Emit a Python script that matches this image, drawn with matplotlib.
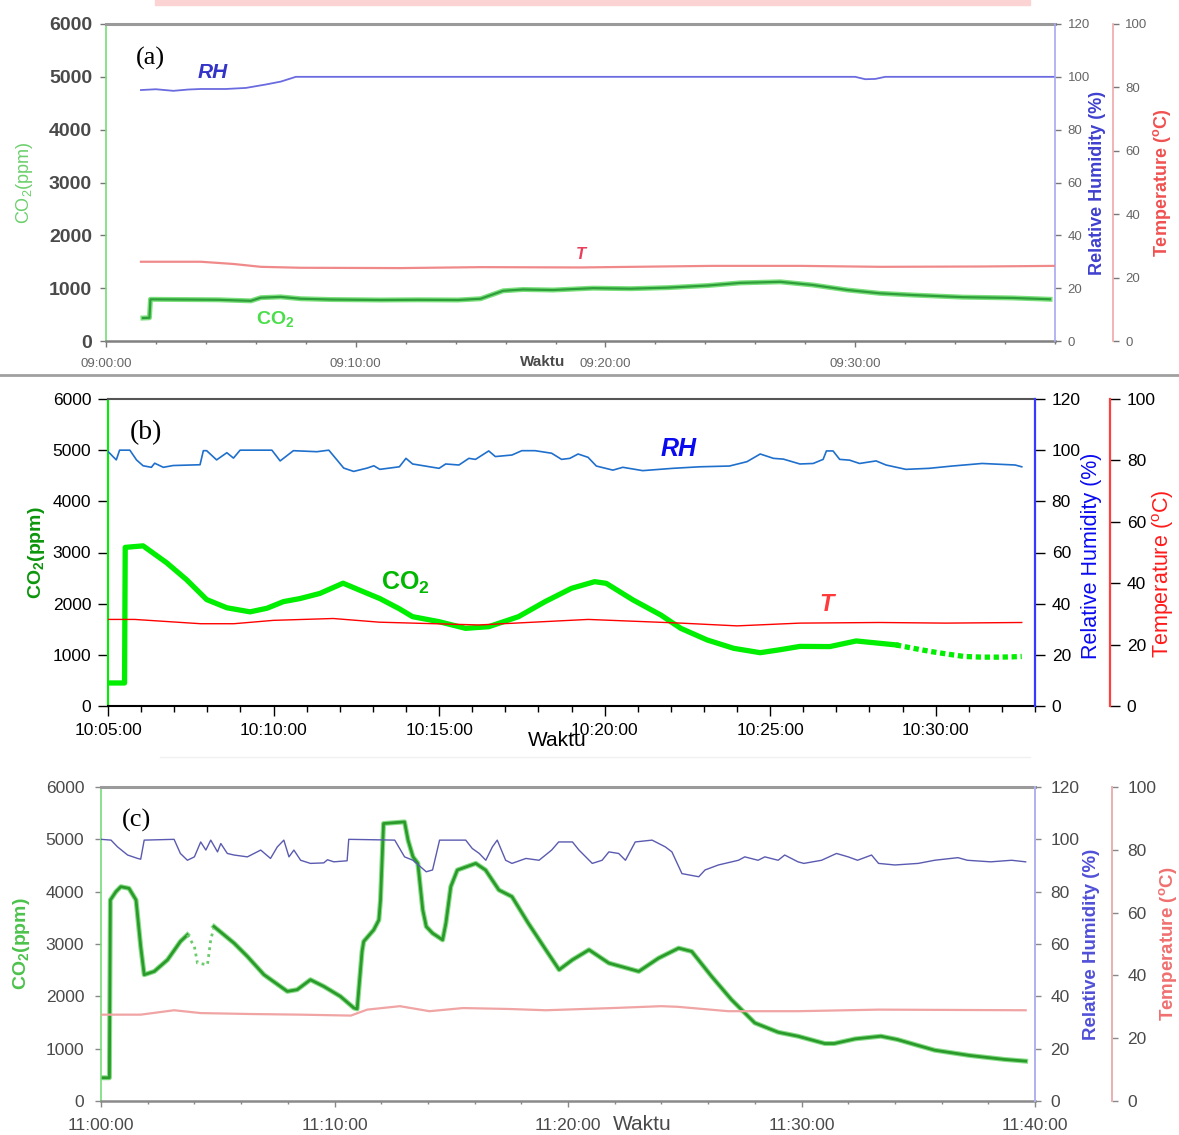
import matplotlib
matplotlib.use('Agg')
import matplotlib.pyplot as plt
from matplotlib.ticker import MultipleLocator
from matplotlib.patches import Rectangle
from matplotlib.lines import Line2D

plt.rcParams['font.family'] = ['Liberation Sans', 'DejaVu Sans']
plt.rcParams['mathtext.fontset'] = 'custom'
plt.rcParams['mathtext.rm'] = 'Liberation Sans'
plt.rcParams['mathtext.bf'] = 'Liberation Sans:bold'
plt.rcParams['mathtext.it'] = 'Liberation Sans:italic'
plt.rcParams['mathtext.default'] = 'regular'

# ---------------- data ----------------
co2_ticks = [0, 1000, 2000, 3000, 4000, 5000, 6000]
rh_ticks = [0, 20, 40, 60, 80, 100, 120]
t_ticks = [0, 20, 40, 60, 80, 100]

# panel (a): minutes after 09:00:00
a_xticks = [0, 10, 20, 30]
a_xlabels = ['09:00:00', '09:10:00', '09:20:00', '09:30:00']
a_co2_t = [1.48, 1.74, 1.78, 3.0, 4.5, 5.8, 6.2, 7.0, 7.8, 9.0, 11.0, 12.5, 14.1, 15.0,
           15.9, 16.7, 17.9, 19.5, 21.0, 22.5, 24.1, 25.4, 27.0, 28.3, 29.7, 31.0, 32.3,
           34.3, 36.3, 37.8]
a_co2 = [435, 440, 789, 785, 780, 760, 820, 835, 800, 785, 776, 780, 776, 800,
         950, 975, 965, 1000, 990, 1010, 1050, 1100, 1120, 1060, 965, 902, 870,
         830, 815, 790]
a_rh_t = [1.4, 2.0, 2.7, 3.3, 3.8, 4.8, 5.6, 6.4, 7.0, 7.6, 30.0, 30.4, 30.8, 31.2, 38.0]
a_rh = [95.0, 95.3, 94.7, 95.2, 95.4, 95.4, 95.8, 97.1, 98.2, 100, 100, 99.1, 99.2, 100, 100]
a_t_t = [1.4, 3.8, 5.1, 6.2, 7.8, 11.8, 15.0, 19.0, 24.3, 27.8, 31.0, 35.0, 38.0]
a_t = [25.0, 25.0, 24.3, 23.4, 23.1, 23.0, 23.3, 23.2, 23.7, 23.7, 23.4, 23.5, 23.7]

# panel (b): minutes after 10:05:00
b_xticks = [0, 5, 10, 15, 20, 25]
b_xlabels = ['10:05:00', '10:10:00', '10:15:00', '10:20:00', '10:25:00', '10:30:00']
b_co2_t = [0.0, 0.5, 0.52, 1.06, 1.77, 2.37, 2.98, 3.59, 4.29, 4.8, 5.3, 5.8, 6.4, 7.1,
           7.8, 8.21, 8.8, 9.2, 10.0, 10.8, 11.5, 12.4, 13.2, 14.0, 14.7, 15.05, 15.86,
           16.7, 17.3, 18.1, 18.9, 19.7, 20.3, 20.9, 21.8, 22.6, 23.3, 23.8]
b_co2 = [450, 450, 3100, 3130, 2800, 2470, 2080, 1920, 1840, 1910, 2040, 2100, 2200, 2400,
         2210, 2100, 1900, 1746, 1648, 1518, 1550, 1746, 2039, 2300, 2430, 2397, 2072,
         1778, 1518, 1290, 1127, 1042, 1100, 1165, 1161, 1271, 1226, 1194]
b_co2_dot_t = [23.8, 24.3, 24.85, 25.4, 25.86, 26.4, 26.9, 27.3, 27.6]
b_co2_dot = [1194, 1130, 1065, 1010, 968, 955, 955, 960, 968]
b_rh_t = [0, 0.15, 0.25, 0.35, 0.66, 0.86, 1.06, 1.31, 1.41, 1.67, 1.97, 2.78, 2.88, 2.98,
          3.28, 3.59, 3.79, 3.99, 4.95, 5.2, 5.6, 6.31, 6.67, 7.12, 7.42, 7.83, 8.03,
          8.21, 8.8, 9.0, 9.2, 10.0, 10.2, 10.6, 10.9, 11.1, 11.5, 11.7, 12.2, 12.5, 12.9,
          13.4, 13.7, 13.95, 14.2, 14.5, 14.75, 15.25, 15.55, 16.15, 17.06, 17.87, 18.77,
          19.3, 19.7, 20.1, 20.4, 20.9, 21.3, 21.6, 21.7, 21.9, 22.1, 22.4, 22.7, 23.2,
          23.5, 24.1, 24.8, 25.5, 26.4, 26.9, 27.4, 27.6]
b_rh = [99.5, 97.5, 96.2, 100, 100, 96.2, 93.9, 93.3, 94.9, 93.3, 94.0, 94.3, 99.8, 99.8,
        96.2, 99.0, 96.9, 100, 100, 95.8, 99.8, 99.4, 100, 93.0, 91.7, 93.0, 93.9,
        92.5, 93.5, 96.8, 94.6, 92.9, 94.6, 94.2, 96.8, 96.4, 99.7, 97.5, 98.1, 99.8, 99.8,
        98.8, 96.4, 96.8, 98.5, 97.2, 93.8, 92.2, 93.3, 92.0, 92.9, 93.5, 93.8,
        95.5, 98.5, 96.8, 96.5, 94.6, 94.8, 96.4, 99.7, 99.7, 96.4, 96.1, 94.8, 95.8,
        94.2, 92.5, 92.9, 93.8, 94.8, 94.5, 94.2, 93.5]
b_t_t = [0, 0.8, 2.8, 3.8, 5.0, 6.8, 8.2, 11.2, 14.5, 17.3, 19.0, 20.9, 23.3, 25.3, 27.6]
b_t = [28.2, 28.2, 26.8, 26.8, 27.9, 28.5, 27.3, 26.4, 28.2, 27.0, 26.1, 27.0, 27.2, 27.0, 27.2]

# panel (c): minutes after 11:00:00
c_xticks = [0, 10, 20, 30, 40]
c_xlabels = ['11:00:00', '11:10:00', '11:20:00', '11:30:00', '11:40:00']
c_co2_t1 = [0.0, 0.36, 0.40, 0.64, 0.85, 1.2, 1.5, 1.7, 1.85, 2.28, 2.85, 3.4, 3.7]
c_co2_1 = [444, 444, 3840, 4000, 4095, 4063, 3841, 2952, 2413, 2476, 2698, 3048, 3175]
c_co2_dot_t = [3.7, 4.0, 4.13, 4.56, 4.7, 4.84]
c_co2_dot = [3175, 2952, 2635, 2603, 3079, 3333]
c_co2_t2 = [4.84, 5.7, 6.27, 6.98, 7.98, 8.4, 8.97, 9.54, 10.25, 10.83, 10.97, 11.18, 11.25,
            11.68, 11.9, 11.97, 12.1, 13.0, 13.15, 13.36, 13.57, 13.78, 13.93, 14.2, 14.63,
            14.77, 14.98, 15.26, 16.05, 16.47, 17.04, 17.6, 18.3, 19.05, 19.62, 20.19, 20.9,
            21.75, 23.03, 23.88, 24.74, 25.3, 26.15, 27.0, 28.0, 29.0, 29.85, 31.0, 31.4,
            32.3, 33.4, 34.1, 35.7, 37.2, 38.7, 39.6]
c_co2_2 = [3333, 3016, 2762, 2413, 2095, 2127, 2317, 2190, 2000, 1778, 1760, 2857, 3048,
           3270, 3460, 3841, 5302, 5333, 4984, 4667, 4540, 3651, 3333, 3206, 3079,
           3397, 4095, 4413, 4540, 4413, 4032, 3905, 3397, 2889, 2508, 2698, 2889,
           2635, 2476, 2730, 2921, 2857, 2381, 1937, 1492, 1314, 1238, 1098, 1098,
           1187, 1238, 1175, 971, 870, 794, 762]
c_rh_t = [0, 0.43, 0.71, 1.14, 1.57, 1.7, 1.85, 3.13, 3.4, 3.7, 4.0, 4.27, 4.49, 4.7, 4.99,
          5.13, 5.41, 5.7, 6.27, 6.84, 7.26, 7.55, 7.83, 8.05, 8.26, 8.55, 8.97, 9.54, 9.7,
          9.97, 10.54, 10.61, 12.58, 13.0, 13.36, 13.93, 14.2, 14.5, 15.62, 15.9, 16.2,
          16.48, 16.76, 16.97, 17.33, 17.6, 18.2, 18.76, 19.3, 19.6, 20.19, 20.47, 21.04,
          21.46, 21.75, 22.17, 22.46, 22.88, 23.6, 24.17, 24.45, 24.88, 25.6, 25.87, 26.44,
          27.3, 27.57, 28.14, 28.43, 29.0, 29.28, 29.85, 30.1, 30.86, 31.5, 32.0, 32.4,
          33.0, 33.3, 34.0, 35.0, 35.7, 36.7, 37.1, 38.1, 39.0, 39.6]
c_rh = [100, 99.7, 97.1, 94.0, 92.7, 92.4, 99.7, 100, 94.6, 92.0, 93.3, 99.0, 95.9, 99.7, 95.2,
        98.4, 94.6, 94.0, 93.3, 95.9, 92.7, 97.1, 99.7, 93.3, 95.9, 92.0, 90.8, 91.0, 92.2,
        91.4, 91.8, 100, 99.7, 93.3, 92.0, 87.6, 88.3, 99.7, 99.7, 96.5, 94.6,
        92.0, 97.1, 99.7, 92.0, 90.8, 92.7, 92.0, 95.9, 99.0, 99.0, 95.9, 90.8,
        92.0, 95.2, 94.6, 92.0, 99.0, 99.7, 97.1, 95.2, 86.9, 85.7, 88.3, 90.2,
        92.0, 93.3, 92.0, 93.3, 92.0, 94.0, 91.4, 90.8, 92.0, 94.6, 93.3, 92.0,
        94.0, 90.8, 90.2, 90.8, 92.0, 93.0, 92.0, 91.4, 92.0, 91.4]
c_t_t = [0, 1.7, 3.13, 4.27, 6.4, 8.55, 10.7, 11.4, 12.8, 14.07, 15.5, 17.5, 19.05, 21.9,
         24.0, 24.7, 26.86, 29.85, 33.3, 39.6]
c_t = [27.5, 27.5, 28.9, 28.0, 27.7, 27.5, 27.2, 29.1, 30.2, 28.6, 29.6, 29.3, 28.9, 29.6,
       30.2, 30.0, 28.6, 28.6, 29.1, 28.9]

# ---------------- figure ----------------
W, H = 1179, 1135
fig = plt.figure(figsize=(W / 100, H / 100), dpi=100)


def rect(l, t, r, b):
    return [l / W, 1 - b / H, (r - l) / W, (b - t) / H]


def make_panel(box, xlim, xticks, xlabels, minor, toff, s):
    ax = fig.add_axes(rect(*box))
    rh = ax.twinx()
    tp = ax.twinx()
    ax.set_xlim(*xlim)
    ax.set_ylim(0, 6000)
    rh.set_ylim(0, 120)
    tp.set_ylim(0, 100)
    ax.set_yticks(co2_ticks)
    rh.set_yticks(rh_ticks)
    tp.set_yticks(t_ticks)
    ax.set_xticks(xticks)
    ax.set_xticklabels(xlabels)
    ax.xaxis.set_minor_locator(MultipleLocator(minor))
    for a in (rh, tp):
        for k in ('left', 'top', 'bottom'):
            a.spines[k].set_visible(False)
    ax.spines['right'].set_visible(False)
    ax.spines['left'].set_color(s['left'])
    ax.spines['left'].set_linewidth(s['lw_l'])
    ax.spines['top'].set_color(s['top'])
    ax.spines['top'].set_linewidth(s['lw_t'])
    ax.spines['bottom'].set_color(s['bottom'])
    ax.spines['bottom'].set_linewidth(s['lw_b'])
    rh.spines['right'].set_color(s['rhsp'])
    rh.spines['right'].set_linewidth(s['lw_r'])
    tp.spines['right'].set_position(('axes', toff))
    tp.spines['right'].set_color(s['tsp'])
    tp.spines['right'].set_linewidth(s['lw_r'])
    ax.tick_params(axis='y', direction='out', length=s['tl'], width=1, color=s['tc'],
                   labelsize=s['ylsize'], labelcolor=s['lc'], pad=s['ypad'])
    ax.tick_params(axis='x', which='major', direction='out', length=s['tl'], width=1,
                   color=s['tc'], labelsize=s['xlsize'], labelcolor=s['xlc'], pad=s['xpad'])
    ax.tick_params(axis='x', which='minor', direction='out', length=s['tl'] * 0.6,
                   width=1, color=s['tc'])
    for a in (rh, tp):
        a.tick_params(axis='y', direction='out', length=s['tl'], width=1, color=s['tc'],
                      labelsize=s['rlsize'], labelcolor=s['rlc'], pad=s['rpad'])
    if s['bold']:
        for lab in ax.get_yticklabels():
            lab.set_fontweight('bold')
    return ax, rh, tp


# ---- panel (a)
sa = dict(left='#77dd77', top='#9a9a9a', bottom='#808080', rhsp='#a8a8f0', tsp='#f0a8a8',
          lw_l=1.2, lw_t=2.2, lw_b=1.8, lw_r=1.2, tl=4, tc='#777777', lc='#4a4a4a',
          xlc='#666666', rlc='#666666',
          ylsize=14, xlsize=9.5, rlsize=9.5, ypad=6, xpad=8, rpad=5, bold=True)
ax, rh, tp = make_panel((106, 24, 1055, 341), (0, 38), a_xticks, a_xlabels, 2, 1.061, sa)
ax.plot(a_co2_t, a_co2, color='#7be07b', lw=3.6, solid_joinstyle='round')
ax.plot(a_co2_t, a_co2, color='#2e9e3a', lw=1.6, solid_joinstyle='round')
rh.plot(a_rh_t, a_rh, color='#6b6be0', lw=1.3)
tp.plot(a_t_t, a_t, color='#f08a8a', lw=1.6)
ax.text(0.031, 0.89, '(a)', transform=ax.transAxes, family='Liberation Serif',
        fontsize=19, ha='left', va='center')
ax.text(0.112, 0.847, 'RH', transform=ax.transAxes, color='#3434c8', fontsize=15,
        fontweight='bold', style='italic', ha='center', va='center')
ax.text(0.5, 0.274, 'T', transform=ax.transAxes, color='#e8405a', fontsize=12,
        fontweight='bold', style='italic', ha='center', va='center')
ax.text(0.178, 0.07, r'$\mathbf{CO_2}$', transform=ax.transAxes, color='#4ade4a',
        fontsize=14, ha='center', va='center')
ax.text(-0.086, 0.5, r'CO$_2$(ppm)', transform=ax.transAxes, rotation=90, color='#6ccf6c',
        fontsize=13, ha='center', va='center')
ax.text(1.045, 0.5, 'Relative Humidity (%)', transform=ax.transAxes, rotation=90,
        color='#4040d0', fontsize=13, fontweight='bold', ha='center', va='center')
ax.text(1.113, 0.5, r'Temperature ($^{o}$C)', transform=ax.transAxes, rotation=90,
        color='#f05050', fontsize=13, fontweight='bold', ha='center', va='center')
ax.text(0.4605, -0.066, 'Waktu', transform=ax.transAxes, color='#4a4a4a', fontsize=11,
        fontweight='bold', ha='center', va='center')

# ---- panel (b)
sb = dict(left='#00ee00', top='#555555', bottom='#000000', rhsp='#3a3aff', tsp='#ff4040',
          lw_l=1.5, lw_t=1.5, lw_b=1.5, lw_r=1.6, tl=7, tc='#000000', lc='#000000',
          xlc='#000000', rlc='#000000',
          ylsize=12.5, xlsize=12.5, rlsize=12.5, ypad=5, xpad=5, rpad=5, bold=False)
ax, rh, tp = make_panel((108, 399, 1035, 706), (0, 28), b_xticks, b_xlabels, 1, 1.081, sb)
ax.plot(b_co2_t, b_co2, color='#00ee00', lw=3.8, solid_joinstyle='round')
ax.plot(b_co2_dot_t, b_co2_dot, color='#00ee00', lw=3.8, linestyle=(0, (1.0, 0.7)))
rh.plot(b_rh_t, b_rh, color='#1f6fcc', lw=1.2)
tp.plot(b_t_t, b_t, color='#ff0000', lw=1.0)
ax.text(0.024, 0.892, '(b)', transform=ax.transAxes, family='Liberation Serif',
        fontsize=20, ha='left', va='center')
ax.text(0.615, 0.837, 'RH', transform=ax.transAxes, color='#0a0af0', fontsize=18,
        fontweight='bold', style='italic', ha='center', va='center')
ax.text(0.321, 0.4, r'$\mathbf{CO_2}$', transform=ax.transAxes, color='#00b800',
        fontsize=18, ha='center', va='center')
ax.text(0.775, 0.33, 'T', transform=ax.transAxes, color='#ff3a3a', fontsize=17,
        fontweight='bold', style='italic', ha='center', va='center')
ax.text(-0.077, 0.5, r'$\mathbf{CO_2}$(ppm)', transform=ax.transAxes, rotation=90,
        color='#0c960c', fontsize=14, fontweight='bold', ha='center', va='center')
ax.text(1.061, 0.49, 'Relative Humidity (%)', transform=ax.transAxes, rotation=90,
        color='#0a0af0', fontsize=15.5, ha='center', va='center')
ax.text(1.138, 0.43, r'Temperature ($^{o}$C)', transform=ax.transAxes, rotation=90,
        color='#ff1a1a', fontsize=15.5, ha='center', va='center')
ax.text(0.485, -0.114, 'Waktu', transform=ax.transAxes, color='#000000', fontsize=15,
        ha='center', va='center')

# ---- panel (c)
sc = dict(left='#77dd77', top='#9a9a9a', bottom='#8a8a8a', rhsp='#b0b0ee', tsp='#eab0b0',
          lw_l=1.2, lw_t=2.2, lw_b=1.8, lw_r=1.4, tl=4, tc='#888888', lc='#4a4a4a',
          xlc='#4a4a4a', rlc='#4a4a4a',
          ylsize=12.5, xlsize=12.5, rlsize=12.5, ypad=8, xpad=8, rpad=7, bold=False)
ax, rh, tp = make_panel((101, 787, 1035, 1101), (0, 39.85), c_xticks, c_xlabels, 2, 1.0825, sc)
ax.plot(c_co2_t1, c_co2_1, color='#88dd88', lw=3.6, solid_joinstyle='round')
ax.plot(c_co2_t1, c_co2_1, color='#2a9a2a', lw=2.0, solid_joinstyle='round')
ax.plot(c_co2_dot_t, c_co2_dot, color='#6acb6a', lw=2.0, linestyle=(0, (1.0, 1.5)))
ax.plot(c_co2_t2, c_co2_2, color='#88dd88', lw=3.6, solid_joinstyle='round')
ax.plot(c_co2_t2, c_co2_2, color='#2a9a2a', lw=2.0, solid_joinstyle='round')
rh.plot(c_rh_t, c_rh, color='#5a5ab0', lw=1.0)
tp.plot(c_t_t, c_t, color='#f0a4a4', lw=1.6)
ax.text(0.022, 0.895, '(c)', transform=ax.transAxes, family='Liberation Serif',
        fontsize=19, ha='left', va='center')
ax.text(-0.0846, 0.5, r'$\mathbf{CO_2}$(ppm)', transform=ax.transAxes, rotation=90,
        color='#4cc24c', fontsize=14, fontweight='bold', ha='center', va='center')
ax.text(1.061, 0.5, 'Relative Humidity (%)', transform=ax.transAxes, rotation=90,
        color='#5050d8', fontsize=13.5, fontweight='bold', ha='center', va='center')
ax.text(1.142, 0.5, r'Temperature ($^{o}$C)', transform=ax.transAxes, rotation=90,
        color='#f07070', fontsize=13.5, fontweight='bold', ha='center', va='center')
ax.text(0.58, -0.076, 'Waktu', transform=ax.transAxes, color='#4a4a4a', fontsize=15,
        ha='center', va='center')

# ---- decorations
fig.patches.append(Rectangle((155 / W, 1 - 5 / H), (1030 - 155) / W, 5 / H,
                             transform=fig.transFigure, color='#fbd3d3', zorder=0))
fig.lines.append(Line2D([0, 1], [1 - 375 / H] * 2, transform=fig.transFigure,
                        color='#a0a0a0', lw=2))
fig.lines.append(Line2D([160 / W, 1030 / W], [1 - 757 / H] * 2, transform=fig.transFigure,
                        color='#f0f0f0', lw=1))

fig.savefig('out.png', dpi=100)
